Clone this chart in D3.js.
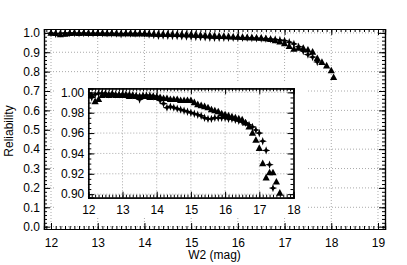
<!DOCTYPE html>
<html>
<head>
<meta charset="utf-8">
<script src="https://cdn.jsdelivr.net/npm/d3@7"></script>
<style>
  body { margin: 0; background: #fff; }
  svg { font-family: "Liberation Sans", Arial, sans-serif; }
  .axis path, .axis line { stroke: #000; }
  .axis text { font-size: 12px; fill: #000; }
</style>
</head>
<body>
<script>
// triangles series
var triW2 = [12.0,12.1,12.2,12.3,12.4,12.5,12.6,12.7,12.8,12.9,13.0,13.1,13.2,13.3,13.4,13.5,13.6,13.7,13.8,13.9,
  14.0,14.1,14.2,14.3,14.4,14.5,14.6,14.7,14.8,14.9,15.0,15.1,15.2,15.3,15.4,15.5,15.6,15.7,15.8,15.9,
  16.0,16.1,16.2,16.3,16.4,16.5,16.6,16.7,16.8,16.9,17.0,17.1,17.2,17.3,17.4,17.5,17.6,17.7,17.8,17.9,18.0,18.05];
var triRel = [0.998,0.997,0.991,0.993,0.997,0.998,0.997,0.998,0.997,0.997,0.997,0.997,0.996,0.997,0.996,0.996,0.996,0.996,0.995,0.996,
  0.995,0.995,0.994,0.994,0.993,0.993,0.993,0.992,0.992,0.992,0.992,0.990,0.988,0.987,0.986,0.985,0.983,0.982,0.981,0.979,
  0.978,0.977,0.976,0.975,0.974,0.973,0.970,0.966,0.960,0.953,0.945,0.930,0.916,0.921,0.921,0.912,0.901,0.868,0.848,0.830,0.805,0.770];

// crosses series
var crsW2 = [12.0,12.1,12.2,12.3,12.4,12.5,12.6,12.7,12.8,12.9,13.0,13.1,13.2,13.3,13.4,13.5,13.6,13.7,13.8,13.9,
  14.0,14.1,14.2,14.3,14.4,14.5,14.6,14.7,14.8,14.9,15.0,15.1,15.2,15.3,15.4,15.5,15.6,15.7,15.8,15.9,
  16.0,16.1,16.2,16.3,16.4,16.5,16.6,16.7,16.8,16.9,17.0,17.1,17.2,17.3,17.4,17.5,17.6,17.7];
var crsRel = [0.999,0.995,0.998,0.999,0.999,0.999,0.998,0.999,0.998,0.998,0.998,0.998,0.998,0.997,0.997,0.993,0.997,0.997,0.997,0.996,
  0.996,0.992,0.989,0.985,0.986,0.985,0.984,0.983,0.982,0.981,0.980,0.979,0.978,0.977,0.975,0.974,0.974,0.975,0.975,0.975,
  0.975,0.974,0.974,0.973,0.972,0.971,0.970,0.968,0.966,0.963,0.960,0.952,0.943,0.929,0.906,0.888,0.875,0.850];

var mainXTicks = [12,13,14,15,16,17,18,19];
var mainYTicks = [0.0,0.1,0.2,0.3,0.4,0.5,0.6,0.7,0.8,0.9,1.0];
var insetXTicks = [12,13,14,15,16,17,18];
var insetYTicks = [0.90,0.92,0.94,0.96,0.98,1.00];

var tri = triW2.map((d,i) => ({x: d, y: triRel[i]}));
var crs = crsW2.map((d,i) => ({x: d, y: crsRel[i]}));

function triPath(){ return "M0,-4L3.6,2.6L-3.6,2.6Z"; }
function starPath(){ return "M0,-4.2L1.1,-1.1L4.2,0L1.1,1.1L0,4.2L-1.1,1.1L-4.2,0L-1.1,-1.1Z"; }

var svg = d3.select("body").append("svg").attr("width",407).attr("height",265);

function panel(g, xs, ys, xTicks, yTicks, xMinor, yMinor, yFmt, clipId, xPad){
  var x0 = xs.range()[0], x1 = xs.range()[1], y0 = ys.range()[0], y1 = ys.range()[1];
  // grid
  var grid = g.append("g").attr("stroke","#aaa").attr("stroke-dasharray","1,2").attr("stroke-width",1);
  grid.selectAll(".vx").data(xTicks).enter().append("line")
    .attr("x1",d => xs(d)).attr("x2",d => xs(d)).attr("y1",y1).attr("y2",y0);
  grid.selectAll(".hy").data(yTicks).enter().append("line")
    .attr("x1",x0).attr("x2",x1).attr("y1",d => ys(d)).attr("y2",d => ys(d));

  g.append("clipPath").attr("id",clipId).append("rect")
    .attr("x",x0).attr("y",y1).attr("width",x1-x0).attr("height",y0-y1);
  var pts = g.append("g").attr("clip-path","url(#"+clipId+")");
  pts.selectAll(".t").data(tri).enter().append("path")
    .attr("d",triPath).attr("transform",d => "translate("+xs(d.x)+","+ys(d.y)+")").attr("fill","#000");
  pts.selectAll(".c").data(crs).enter().append("path")
    .attr("d",starPath).attr("transform",d => "translate("+xs(d.x)+","+ys(d.y)+")").attr("fill","#000");

  // axes, ticks pointing inward
  g.append("g").attr("class","axis").attr("transform","translate(0,"+y0+")")
    .call(d3.axisBottom(xs).tickValues(xTicks).tickSize(-6).tickPadding(xPad).tickFormat(d3.format("d")));
  g.append("g").attr("class","axis").attr("transform","translate(0,"+y0+")")
    .call(d3.axisBottom(xs).tickValues(xMinor).tickSize(-3).tickFormat(""));
  g.append("g").attr("class","axis").attr("transform","translate(0,"+y1+")")
    .call(d3.axisTop(xs).tickValues(xTicks).tickSize(-6).tickFormat(""));
  g.append("g").attr("class","axis").attr("transform","translate(0,"+y1+")")
    .call(d3.axisTop(xs).tickValues(xMinor).tickSize(-3).tickFormat(""));
  g.append("g").attr("class","axis").attr("transform","translate("+x0+",0)")
    .call(d3.axisLeft(ys).tickValues(yTicks).tickSize(-6).tickPadding(4).tickFormat(d3.format(yFmt)));
  g.append("g").attr("class","axis").attr("transform","translate("+x0+",0)")
    .call(d3.axisLeft(ys).tickValues(yMinor).tickSize(-3).tickFormat(""));
  g.append("g").attr("class","axis").attr("transform","translate("+x1+",0)")
    .call(d3.axisRight(ys).tickValues(yTicks).tickSize(-6).tickFormat(""));
  g.append("g").attr("class","axis").attr("transform","translate("+x1+",0)")
    .call(d3.axisRight(ys).tickValues(yMinor).tickSize(-3).tickFormat(""));
  g.selectAll(".axis .domain").attr("stroke-width",1.2);
}

// main panel
var xMain = d3.scaleLinear().domain([11.85,19.15]).range([44,385]);
var yMain = d3.scaleLinear().domain([-0.012,1.02]).range([229,29]);
var mainG = svg.append("g");
panel(mainG, xMain, yMain, mainXTicks, mainYTicks,
  d3.range(119,192).map(d => d/10), d3.range(0,52).map(d => d/50), ".1f", "clipMain", 9);

mainG.append("text").attr("x",214.5).attr("y",259).attr("text-anchor","middle")
  .attr("font-size",12).text("W2 (mag)");
mainG.append("text").attr("transform","translate(13,131) rotate(-90)").attr("text-anchor","middle")
  .attr("font-size",12).text("Reliability");

// inset panel
svg.append("rect").attr("x",56).attr("y",81).attr("width",251).attr("height",135).attr("fill","#fff");
var xIn = d3.scaleLinear().domain([12,18]).range([88.3,293.5]);
var yIn = d3.scaleLinear().domain([0.8965,1.004]).range([197.7,88.3]);
var inG = svg.append("g");
panel(inG, xIn, yIn, insetXTicks, insetYTicks,
  d3.range(120,181).map(d => d/10), d3.range(180,201).map(d => d/200), ".2f", "clipIn", 8);
</script>
</body>
</html>
